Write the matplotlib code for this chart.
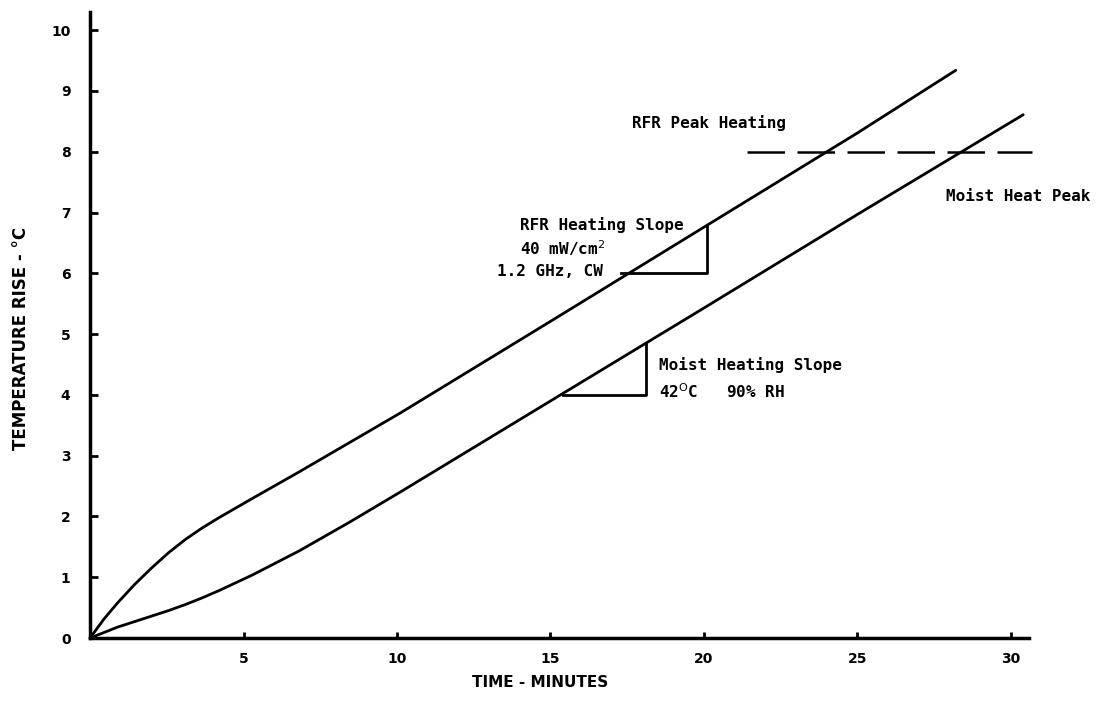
"""
Temperature rise vs time: RFR heating compared with moist heat.
"""

import matplotlib
matplotlib.use('Agg')
import matplotlib.pyplot as plt

# values
rfr_time = [0, 0.45, 0.9, 1.45, 2.0, 2.55, 3.1, 3.65, 4.2, 5.3, 6.8, 8.4, 10.1, 15, 20, 25, 28.2]
rfr_rise = [0, 0.31, 0.58, 0.88, 1.15, 1.40, 1.62, 1.81, 1.98, 2.30, 2.73, 3.20, 3.70, 5.21, 6.76, 8.31, 9.34]

moist_time = [0, 0.45, 0.9, 1.45, 2.0, 2.55, 3.1, 3.65, 4.2, 5.3, 6.8, 8.4, 10.1, 15, 20, 25, 30.4]
moist_rise = [0, 0.09, 0.18, 0.27, 0.36, 0.45, 0.55, 0.66, 0.78, 1.04, 1.43, 1.89, 2.40, 3.90, 5.43, 6.97, 8.61]

peak_time = [21.4, 30.7]
peak_rise = 8.0

# slope triangles: [start, end] in time and rise
rfr_tri_time = [17.3, 20.1]
rfr_tri_rise = [6.0, 6.78]
moist_tri_time = [15.4, 18.1]
moist_tri_rise = [4.0, 4.83]

x_ticks = [5, 10, 15, 20, 25, 30]
y_ticks = [0, 1, 2, 3, 4, 5, 6, 7, 8, 9, 10]

mono = 'DejaVu Sans Mono'
note = dict(family=mono, fontweight='bold', fontsize=11.5, va='center')

fig = plt.figure(figsize=(10.98, 7.05), dpi=100)
ax = fig.add_axes([0.082, 0.095, 0.8555, 0.888])

ax.plot(rfr_time, rfr_rise, color='black', linewidth=2.0, solid_capstyle='round')
ax.plot(moist_time, moist_rise, color='black', linewidth=2.0, solid_capstyle='round', clip_on=False)
ax.plot(peak_time, [peak_rise, peak_rise], color='black', linewidth=1.8,
        linestyle=(0, (15, 5)), clip_on=False)

for tt, rr in [(rfr_tri_time, rfr_tri_rise), (moist_tri_time, moist_tri_rise)]:
    ax.plot([tt[0], tt[1], tt[1]], [rr[0], rr[0], rr[1]], color='black', linewidth=2.0)

ax.text(17.65, 8.47, 'RFR Peak Heating', **note)
ax.text(27.9, 7.27, 'Moist Heat Peak', clip_on=False, **note)
ax.text(14.0, 6.79, 'RFR Heating Slope', **note)
ax.text(14.0, 6.41, '40 mW/cm$^2$', **note)
ax.text(13.26, 6.03, '1.2 GHz, CW', **note)
ax.text(18.55, 4.5, 'Moist Heating Slope', **note)
ax.text(18.55, 4.05, '42$^{\\mathrm{O}}$C   90% RH', **note)

ax.set_xlim(0, 30.6)
ax.set_ylim(0, 10.3)
ax.set_xticks(x_ticks)
ax.set_yticks(y_ticks)
ax.spines['top'].set_visible(False)
ax.spines['right'].set_visible(False)
ax.spines['left'].set_linewidth(2.5)
ax.spines['bottom'].set_linewidth(2.5)
ax.tick_params(axis='y', direction='in', length=6, width=2, pad=14, labelsize=10)
ax.tick_params(axis='x', direction='in', length=4, width=2, pad=10, labelsize=10)
for lbl in ax.get_xticklabels() + ax.get_yticklabels():
    lbl.set_fontweight('bold')

ax.set_xlabel('TIME - MINUTES', fontsize=11, fontweight='bold')
ax.xaxis.set_label_coords(0.479, -0.059)
ax.set_ylabel('TEMPERATURE RISE - °C', fontsize=12, fontweight='bold')
ax.yaxis.set_label_coords(-0.064, 0.479)

plt.savefig('out.png', dpi=100)
